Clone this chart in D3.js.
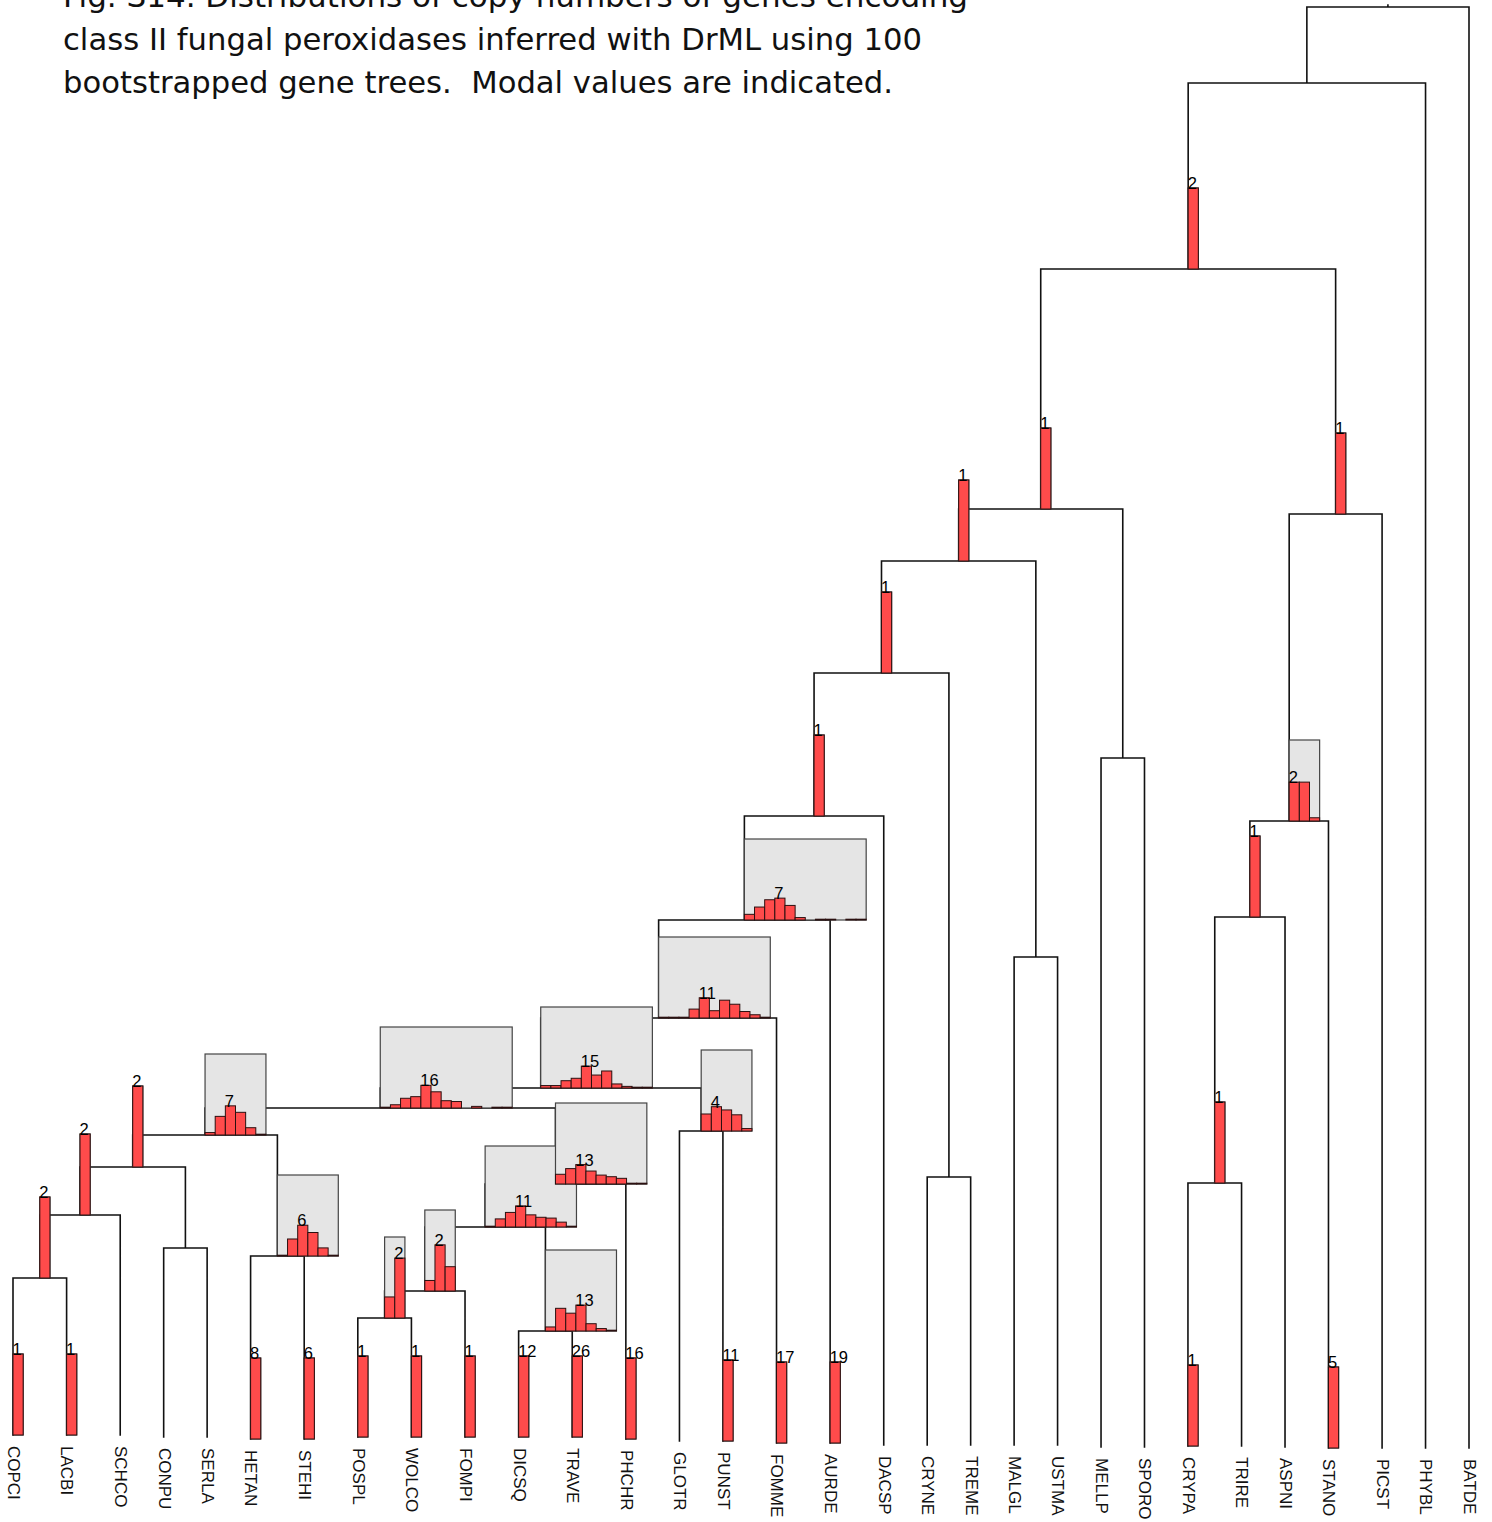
<!DOCTYPE html>
<html><head><meta charset="utf-8">
<script src="https://cdn.jsdelivr.net/npm/d3@7"></script>
<style>body{margin:0;background:#fff}svg{display:block}</style>
</head><body>
<svg id="chart" width="1492" height="1522"></svg>
<script>
// ---------------- data ----------------
const titleLines = [
  "Fig. S14. Distributions of copy numbers of genes encoding",
  "class II fungal peroxidases inferred with DrML using 100",
  "bootstrapped gene trees.  Modal values are indicated."
];
const titleWidths = [905, 859, 830];

// leaves, left to right, with their branch-end depth (arbitrary time units)
const taxa = ["COPCI","LACBI","SCHCO","CONPU","SERLA","HETAN","STEHI","POSPL","WOLCO","FOMPI",
  "DICSQ","TRAVE","PHCHR","GLOTR","PUNST","FOMME","AURDE","DACSP","CRYNE","TREME","MALGL",
  "USTMA","MELLP","SPORO","CRYPA","TRIRE","ASPNI","STANO","PICST","PHYBL","BATDE"];
const taxaDepth = [1.428,1.428,1.428,1.430,1.430,1.432,1.432,1.430,1.430,1.430,
  1.430,1.430,1.432,1.434,1.434,1.436,1.436,1.438,1.438,1.438,1.438,
  1.438,1.440,1.440,1.439,1.439,1.440,1.441,1.441,1.441,1.441];

// internal clades: id, left child, right child, depth
const cladeIds   = ["root","A","B","C","E","G","I","K","L","M","N","P","R","T","V","U","S","Q","W","X","Z","Y","O","J","H","F","D","AA","BB","CC"];
const cladeLeft  = ["A","B","C","E","G","I","K","L","M","N","P","R","T","V","COPCI","CONPU","HETAN","W","X","Z","POSPL","DICSQ","GLOTR","CRYNE","MALGL","MELLP","AA","BB","CC","CRYPA"];
const cladeRight = ["BATDE","PHYBL","D","F","H","J","DACSP","AURDE","FOMME","O","Q","S","U","SCHCO","LACBI","SERLA","STEHI","PHCHR","Y","FOMPI","WOLCO","TRAVE","PUNST","TREME","USTMA","SPORO","PICST","STANO","ASPNI","TRIRE"];
const cladeDepth = [0,0.076,0.262,0.502,0.554,0.666,0.809,0.913,1.011,1.081,1.101,1.128,1.160,1.208,1.271,1.241,1.249,1.177,1.220,1.284,1.311,1.324,1.124,1.170,0.950,0.751,0.507,0.814,0.910,1.176];

// copy-number distributions (counts out of 100 bootstrap trees), first bin value + counts
const histNodes  = ["B","C","D","E","G","I","K","L","M","N","O","P","Q","R","S","T","V","W","X","Y","Z","AA","BB","CC",
  "COPCI","LACBI","HETAN","STEHI","POSPL","WOLCO","FOMPI","DICSQ","TRAVE","PHCHR","PUNST","FOMME","AURDE","CRYPA","STANO"];
const histFirst  = [2,1,1,1,1,1,4,7,11,12,3,5,11,2,4,2,2,8,1,10,1,2,1,1,
  1,1,8,6,1,1,1,12,26,16,11,17,19,1,5];
const histCounts = [
  [100],[100],[100],[100],[100],[100],
  [7,16,25,27,18,3,0,1,1,0,1,1],
  [1,1,1,11,25,9,22,17,8,4,1],
  [3,3,9,12,27,16,21,5,2,1,1],
  [1,4,12,14,28,20,9,8,0,2,0,1,1],
  [21,30,26,20,3],
  [3,23,36,28,9,1],
  [12,19,24,16,11,9,7,1,1],
  [100],
  [1,21,38,29,10,1],
  [100],[100],
  [1,10,18,26,15,12,11,6,1],
  [13,57,30],
  [5,28,22,32,9,3,1],
  [26,74],
  [48,48,4],
  [100],[100],
  [100],[100],[100],[100],[100],[100],[100],[100],[100],[100],[100],[100],[100],[100],[100]
];

// ---------------- layout ----------------
const svg = d3.select("#chart");
const boxH = 81;
const barRatio = 10.15 / 43.46;       // width of one bin relative to a plain leaf gap

const rows = [{id: "root", parentId: null}];
cladeIds.forEach((id, i) => {
  rows.push({id: cladeLeft[i], parentId: id});
  rows.push({id: cladeRight[i], parentId: id});
});
const root = d3.stratify().id(d => d.id).parentId(d => d.parentId)(rows);

const depthOf = new Map();
taxa.forEach((t, i) => depthOf.set(t, taxaDepth[i]));
cladeIds.forEach((c, i) => depthOf.set(c, cladeDepth[i]));
const histOf = new Map();
histNodes.forEach((n, i) => histOf.set(n, {first: histFirst[i], counts: histCounts[i]}));

// leaf slots: a leaf carrying a bar takes an extra bin of room on its right
const leaves = root.leaves();
let u = 0;
leaves.forEach(l => { l.u = u; u += 1 + (histOf.has(l.id) ? barRatio : 0); });
const lastU = leaves[leaves.length - 1].u;
const x = d3.scaleLinear().domain([0, lastU]).range([13, 1469]);
const binW = (x(1) - x(0)) * barRatio;
const y = d3.scaleLinear().domain([0, 1]).range([7, 1007]);
const hScale = d3.scaleLinear().domain([0, 100]).range([0, boxH]);

root.eachAfter(n => {
  n.py = y(depthOf.get(n.id));
  if (n.children) n.px = (n.children[0].px + n.children[n.children.length - 1].px) / 2;
  else n.px = x(n.u);
});

// ---------------- tree lines ----------------
const gLines = svg.append("g")
  .attr("fill", "none").attr("stroke", "#111").attr("stroke-width", 1.6)
  .attr("stroke-linecap", "square");
const p = d3.path();
root.each(n => {
  if (n.children) {
    p.moveTo(n.children[0].px, n.py);
    p.lineTo(n.children[n.children.length - 1].px, n.py);
  }
  if (n.parent) {
    p.moveTo(n.px, n.parent.py);
    p.lineTo(n.px, n.py);
  } else {
    p.moveTo(n.px, n.py - 2);
    p.lineTo(n.px, n.py);
  }
});
gLines.append("path").attr("d", p.toString());

// ---------------- histograms ----------------
const gHist = svg.append("g");
root.eachAfter(n => {
  const h = histOf.get(n.id);
  if (!h) return;
  const g = gHist.append("g").attr("transform", `translate(${n.px},${n.py})`);
  const nb = h.counts.length;
  g.append("rect")
    .attr("x", 0).attr("y", -boxH).attr("width", nb * binW).attr("height", boxH)
    .attr("fill", "#e5e5e5").attr("stroke", "#444").attr("stroke-width", 1.2);
  g.selectAll("rect.bar").data(h.counts.map((c, i) => ({c, i})).filter(d => d.c > 0))
    .join("rect").attr("class", "bar")
    .attr("x", d => d.i * binW).attr("y", d => -hScale(d.c))
    .attr("width", binW).attr("height", d => hScale(d.c))
    .attr("fill", "#ff4b4b").attr("stroke", "#2b1010").attr("stroke-width", 1);
  const mi = d3.maxIndex(h.counts);
  g.append("text")
    .attr("x", mi * binW - 0.5).attr("y", -hScale(h.counts[mi]) + 1)
    .attr("font-family", "'Liberation Sans', Arial, sans-serif").attr("font-size", 16.5)
    .attr("fill", "#000")
    .text(h.first + mi);
});

// ---------------- leaf labels ----------------
svg.append("g").selectAll("text").data(leaves).join("text")
  .attr("transform", d => `translate(${d.px + 1},${d.py + 11}) rotate(90)`)
  .attr("dy", "0.36em")
  .attr("font-family", "'Liberation Sans', Arial, sans-serif").attr("font-size", 17)
  .attr("fill", "#111")
  .text(d => d.id);

// ---------------- title ----------------
const gTitle = svg.append("g");
titleLines.forEach((t, i) => {
  gTitle.append("text")
    .attr("x", 63).attr("y", 7 + i * 43)
    .attr("font-family", "'DejaVu Sans', sans-serif").attr("font-size", 31)
    .attr("fill", "#111")
    .style("white-space", "pre")
    .attr("textLength", titleWidths[i]).attr("lengthAdjust", "spacingAndGlyphs")
    .text(t);
});
</script>
</body></html>
